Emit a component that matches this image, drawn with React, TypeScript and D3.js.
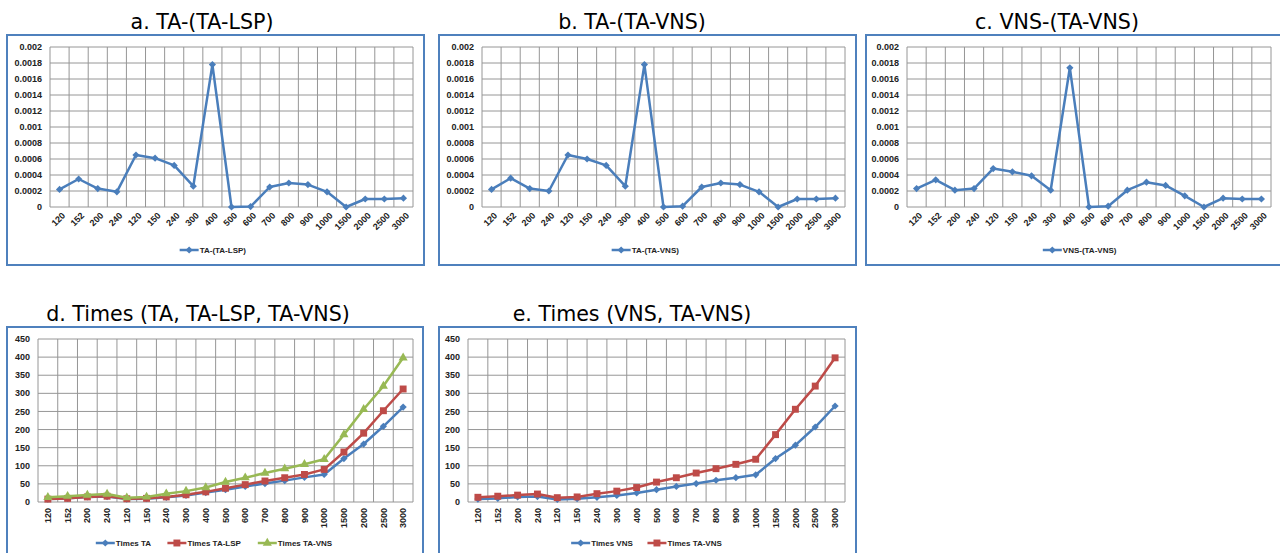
import React from 'react';
import * as d3 from 'd3';

const W = 1280;
const H = 553;

// problem sizes (x categories, they repeat in the source)
const categories = ['120', '152', '200', '240', '120', '150', '240', '300', '400', '500', '600', '700', '800', '900', '1000', '1500', '2000', '2500', '3000'];

// gap series (panels a-c)
const taMinusTaLsp = [0.00022, 0.00035, 0.00023, 0.00019, 0.00065, 0.00061, 0.00052, 0.00026, 0.00178, 0, 0.000005, 0.00025, 0.0003, 0.00028, 0.00019, 0, 0.0001, 0.0001, 0.00011];
const taMinusTaVns = [0.00022, 0.00036, 0.00023, 0.0002, 0.00065, 0.0006, 0.00052, 0.00026, 0.00178, 0, 0.00001, 0.00025, 0.0003, 0.00028, 0.00019, 0, 0.0001, 0.0001, 0.00011];
const vnsMinusTaVns = [0.00023, 0.00034, 0.00021, 0.00023, 0.00048, 0.00044, 0.00039, 0.00021, 0.00174, 0, 0.00001, 0.00021, 0.00031, 0.00027, 0.00014, 0, 0.00011, 0.0001, 0.0001];

// running times (panels d-e)
const timesTA = [8, 10, 14, 15, 8, 9, 13, 18, 26, 34, 43, 51, 59, 68, 76, 120, 160, 209, 262];
const timesTaLsp = [8, 10, 14, 16, 9, 10, 14, 20, 28, 38, 48, 58, 67, 76, 90, 138, 190, 252, 312];
const timesTaVns = [13, 16, 19, 22, 12, 14, 23, 30, 40, 55, 67, 80, 92, 104, 118, 186, 256, 320, 398];
const timesVNS = [8, 10, 14, 15, 7, 9, 13, 18, 25, 34, 43, 51, 60, 67, 75, 120, 157, 207, 265];

const BLUE = '#4A7EBB';
const RED = '#BE4B48';
const GREEN = '#98B954';
const FRAME = '#4F81BD';
const GRID = '#969696';
const FONT = '"Liberation Sans", Arial, sans-serif';

type Marker = 'diamond' | 'square' | 'triangle';
type Series = { name: string; values: number[]; color: string; marker: Marker };

const markerPath = (m: Marker) => {
  if (m === 'square') return d3.symbol().type(d3.symbolSquare).size(48)();
  if (m === 'triangle') return d3.symbol().type(d3.symbolTriangle).size(36)();
  return d3.symbol().type(d3.symbolSquare).size(26)();
};

const MarkerShape = ({ m, x, y, color }: { m: Marker; x: number; y: number; color: string }) => (
  <path
    d={markerPath(m) || ''}
    fill={color}
    transform={`translate(${x},${y})${m === 'diamond' ? ' rotate(45)' : ''}`}
  />
);

type PanelProps = {
  box: [number, number, number, number];
  plot: [number, number, number, number];
  title: string;
  titleX: number;
  titleY: number;
  yMax: number;
  series: Series[];
  vertical: boolean;
  legendY: number;
};

const Panel = ({ box, plot, title, titleX, titleY, yMax, series, vertical, legendY }: PanelProps) => {
  const [left, top, right, bottom] = plot;
  const idx = d3.range(categories.length);
  const x = d3.scaleBand<number>().domain(idx).range([left, right]);
  const y = d3.scaleLinear().domain([0, yMax]).range([bottom, top]);
  const ticks = y.ticks(10);
  const fmt = d3.format('~g');
  const line = d3.line<number>().x((d, i) => x(i)! + x.bandwidth() / 2).y(d => y(d));

  // legend layout, centred on the frame
  const itemW = series.map(s => 20 + s.name.length * 4.7 + 14);
  const totalW = d3.sum(itemW) - 14;
  let lx = box[0] + box[2] / 2 - totalW / 2;

  return (
    <g>
      <text x={titleX} y={titleY} textAnchor="middle" fontSize={20.6} fontFamily='"DejaVu Sans", sans-serif' fill="#000">
        {title}
      </text>
      <rect x={box[0]} y={box[1]} width={box[2]} height={box[3]} fill="#fff" stroke={FRAME} strokeWidth={2} />
      {ticks.map(t => (
        <g key={'y' + t}>
          <line x1={left} x2={right} y1={y(t)} y2={y(t)} stroke={GRID} strokeWidth={1} />
          <text x={left - 8} y={y(t)} dy="0.35em" textAnchor="end" fontSize={9} fontFamily={FONT} fontWeight="bold" fill="#222">
            {fmt(t)}
          </text>
        </g>
      ))}
      {[...idx, categories.length].map(i => {
        const xx = i < categories.length ? x(i)! : right;
        return <line key={'v' + i} x1={xx} x2={xx} y1={top} y2={bottom} stroke={GRID} strokeWidth={1} />;
      })}
      {categories.map((c, i) => {
        const cx = x(i)! + x.bandwidth() / 2;
        return vertical ? (
          <text key={'x' + i} transform={`translate(${cx},${bottom + 6}) rotate(-90)`} dy="0.35em" textAnchor="end" fontSize={9} fontFamily={FONT} fontWeight="bold" fill="#222">
            {c}
          </text>
        ) : (
          <text key={'x' + i} transform={`translate(${cx + 4},${bottom + 7}) rotate(-45)`} dy="0.35em" textAnchor="end" fontSize={9} fontFamily={FONT} fontWeight="bold" fill="#222">
            {c}
          </text>
        );
      })}
      {series.map(s => (
        <g key={s.name}>
          <path d={line(s.values) || ''} fill="none" stroke={s.color} strokeWidth={2.5} strokeLinejoin="round" />
          {s.values.map((v, i) => (
            <MarkerShape key={i} m={s.marker} x={x(i)! + x.bandwidth() / 2} y={y(v)} color={s.color} />
          ))}
        </g>
      ))}
      {series.map((s, k) => {
        const x0 = lx;
        lx += itemW[k];
        return (
          <g key={'lg' + s.name}>
            <line x1={x0} x2={x0 + 19} y1={legendY} y2={legendY} stroke={s.color} strokeWidth={2.5} />
            <MarkerShape m={s.marker} x={x0 + 9.5} y={legendY} color={s.color} />
            <text x={x0 + 20} y={legendY} dy="0.35em" fontSize={8} fontFamily={FONT} fontWeight="bold" fill="#222">
              {s.name}
            </text>
          </g>
        );
      })}
    </g>
  );
};

export default function App() {
  return (
    <svg width={W} height={H} style={{ position: 'absolute', left: 0, top: 0, background: '#fff' }}>
      <Panel box={[7, 35, 417, 230]} plot={[50, 47, 413, 207]} title="a. TA-(TA-LSP)" titleX={202} titleY={29} yMax={0.002}
        series={[{ name: 'TA-(TA-LSP)', values: taMinusTaLsp, color: BLUE, marker: 'diamond' }]} vertical={false} legendY={250} />
      <Panel box={[439, 35, 417, 230]} plot={[482, 47, 845, 207]} title="b. TA-(TA-VNS)" titleX={632} titleY={29} yMax={0.002}
        series={[{ name: 'TA-(TA-VNS)', values: taMinusTaVns, color: BLUE, marker: 'diamond' }]} vertical={false} legendY={250} />
      <Panel box={[866, 35, 430, 230]} plot={[907, 47, 1271, 207]} title="c. VNS-(TA-VNS)" titleX={1057} titleY={29} yMax={0.002}
        series={[{ name: 'VNS-(TA-VNS)', values: vnsMinusTaVns, color: BLUE, marker: 'diamond' }]} vertical={false} legendY={250} />
      <Panel box={[7, 327, 416, 240]} plot={[38, 339, 413, 502]} title="d. Times (TA, TA-LSP, TA-VNS)" titleX={198} titleY={321} yMax={450}
        series={[
          { name: 'Times TA', values: timesTA, color: BLUE, marker: 'diamond' },
          { name: 'Times TA-LSP', values: timesTaLsp, color: RED, marker: 'square' },
          { name: 'Times TA-VNS', values: timesTaVns, color: GREEN, marker: 'triangle' },
        ]} vertical={true} legendY={543} />
      <Panel box={[439, 327, 417, 240]} plot={[468, 339, 845, 502]} title="e. Times (VNS, TA-VNS)" titleX={632} titleY={321} yMax={450}
        series={[
          { name: 'Times VNS', values: timesVNS, color: BLUE, marker: 'diamond' },
          { name: 'Times TA-VNS', values: timesTaVns, color: RED, marker: 'square' },
        ]} vertical={true} legendY={543} />
    </svg>
  );
}
